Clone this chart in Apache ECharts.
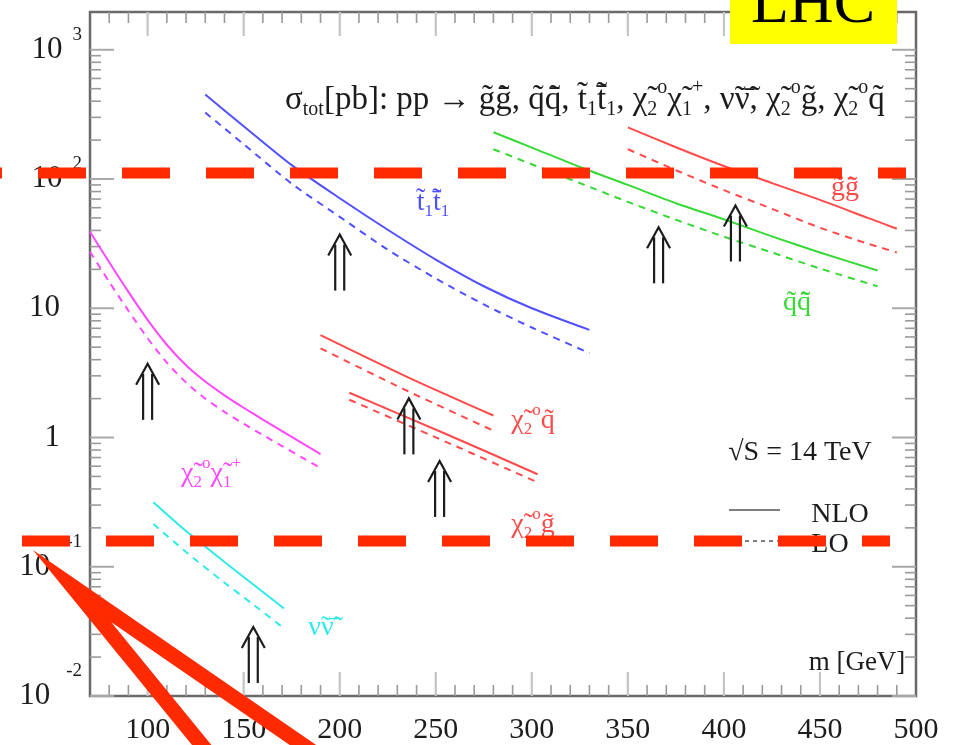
<!DOCTYPE html>
<html>
<head>
<meta charset="utf-8">
<script src="https://cdn.jsdelivr.net/npm/echarts@6/dist/echarts.min.js"></script>
<style>
  html, body { margin: 0; padding: 0; background: #ffffff; }
  #chart { width: 959px; height: 745px; }
</style>
</head>
<body>
<div id="chart"></div>
<script>
// Total cross sections sigma_tot [pb] versus mass m [GeV], pp at sqrt(S) = 14 TeV.

// gluino pair
const mGluino = [350, 375, 400, 425, 450, 475, 490];
const gluinoNLO = [251, 176, 126, 93, 69, 50, 41.2];
const gluinoLO = [170, 117, 82, 58.8, 42, 31.6, 27];

// squark-antisquark
const mSquark = [280, 300, 325, 350, 375, 400, 425, 450, 480];
const squarkNLO = [230, 175, 124, 90, 65, 48.8, 36, 27, 19.6];
const squarkLO = [170, 130, 93, 66.5, 48.4, 35.8, 27, 20.3, 14.8];

// stop pair
const mStop = [130, 150, 175, 200, 225, 250, 275, 300, 330];
const stopNLO = [450, 256, 128, 71, 40.5, 23.8, 14.8, 10.0, 6.8];
const stopLO = [327, 186, 92, 51, 28.4, 17, 10.7, 7.1, 4.5];

// neutralino-chargino
const mGaugino = [70, 80, 90, 100, 110, 120, 130, 140, 150, 160, 170, 180, 190];
const gauginoNLO = [39.1, 22.7, 13.4, 8.13, 5.22, 3.62, 2.71, 2.12, 1.70, 1.376, 1.12, 0.912, 0.743];
const gauginoLO = [27.4, 16.0, 9.57, 5.86, 3.80, 2.66, 2.00, 1.58, 1.277, 1.045, 0.859, 0.706, 0.580];

// sneutrino pair
const mSneutrino = [103, 120, 140, 155, 171];
const sneutrinoNLO = [0.316, 0.189, 0.109, 0.073, 0.0475];
const sneutrinoLO = [0.214, 0.130, 0.0753, 0.051, 0.0333];

// neutralino + squark
const mChiSquark = [190, 235, 280];
const chiSquarkNLO = [6.2, 2.95, 1.48];
const chiSquarkLO = [4.9, 2.3, 1.13];

// neutralino + gluino
const mChiGluino = [205, 255, 303];
const chiGluinoNLO = [2.22, 1.07, 0.52];
const chiGluinoLO = [1.96, 0.93, 0.45];

// threshold arrows: mass and the cross section at the arrow foot
const arrowMass = [100, 155, 200, 236, 252, 366, 406];
const arrowBase = [1.37, 0.0126, 13.7, 0.74, 0.243, 15.6, 23];

// axis ticks
const xTickLabels = [100, 150, 200, 250, 300, 350, 400, 450, 500];
const yTickLabels = [0.01, 0.1, 1, 10, 100, 1000];

const SERIF = '"Liberation Serif", "DejaVu Serif", serif';
const INK = '#1c1c1c';
const COL = {
  red: '#ff4a4a', green: '#36d936', blue: '#5050ff', magenta: '#ff48ff', cyan: '#30eaea'
};
const OVERLAY = '#ff2a00';

const xMin = 70, xMax = 500, yMin = 0.01, yMax = 1960;

// minor tick positions
const xMinor = [];
for (let v = 80; v < xMax; v += 10) if (v % 50 !== 0) xMinor.push(v);
const xMajor = xTickLabels.filter(v => v < xMax);
const yMinor = [];
yTickLabels.forEach(d => { for (let k = 2; k <= 9; k++) if (d * k < yMax) yMinor.push(d * k); });
const yMajor = yTickLabels.slice();

function zip(xs, ys) { return xs.map((x, i) => [x, ys[i]]); }

function curve(name, xs, ys, color, dashed) {
  return {
    name, type: 'line', data: zip(xs, ys), showSymbol: false, symbol: 'none',
    smooth: 0.25, silent: true, z: 3,
    lineStyle: { color, width: 2, type: dashed ? [7, 6] : 'solid' }
  };
}

function tickSeries(values, dir, len, color, width) {
  return {
    type: 'custom', silent: true, z: 2, clip: false,
    data: values.map(v => dir === 'x' ? [v, 1] : [100, v]),
    renderItem(params, api) {
      const cs = params.coordSys;
      const p = api.coord([api.value(0), api.value(1)]);
      const st = { stroke: color, lineWidth: width };
      if (dir === 'x') {
        const yb = cs.y + cs.height, yt = cs.y;
        return { type: 'group', children: [
          { type: 'line', shape: { x1: p[0], y1: yb, x2: p[0], y2: yb - len }, style: st },
          { type: 'line', shape: { x1: p[0], y1: yt, x2: p[0], y2: yt + len }, style: st }
        ] };
      }
      const xl = cs.x, xr = cs.x + cs.width;
      return { type: 'group', children: [
        { type: 'line', shape: { x1: xl, y1: p[1], x2: xl + len, y2: p[1] }, style: st },
        { type: 'line', shape: { x1: xr, y1: p[1], x2: xr - len, y2: p[1] }, style: st }
      ] };
    }
  };
}

const arrowSeries = {
  type: 'custom', silent: true, z: 4, clip: false,
  data: zip(arrowMass, arrowBase),
  renderItem(params, api) {
    const p = api.coord([api.value(0), api.value(1)]);
    const x = p[0], y = p[1];
    const st = { stroke: INK, lineWidth: 2.2, fill: null };
    return { type: 'group', children: [
      { type: 'line', shape: { x1: x - 4.5, y1: y, x2: x - 4.5, y2: y - 46 }, style: st },
      { type: 'line', shape: { x1: x + 4.5, y1: y, x2: x + 4.5, y2: y - 46 }, style: st },
      { type: 'polyline', shape: { points: [[x - 11.5, y - 35], [x, y - 56], [x + 11.5, y - 35]] }, style: st }
    ] };
  }
};

// rich text styles for particle names
function richSet(size, color) {
  const s = Math.round(size * 0.6);
  return {
    m: { fontFamily: SERIF, fontSize: size, color },
    sb: { fontFamily: SERIF, fontSize: s, color, padding: [Math.round(size * 0.6), 0, 0, 0] },
    sp: { fontFamily: SERIF, fontSize: s, color, padding: [0, 0, Math.round(size * 0.75), 0] }
  };
}
function label(text, x, y, color, size) {
  const fs = size || 28;
  return {
    type: 'text', x, y, z: 20, silent: true,
    style: { text, rich: richSet(fs, color), align: 'center', verticalAlign: 'middle',
             fontFamily: SERIF, fontSize: fs, fill: color }
  };
}
function plainText(text, x, y, size) {
  return {
    type: 'text', x, y, z: 20, silent: true,
    style: { text, fontFamily: SERIF, fontSize: size, fill: INK, align: 'center', verticalAlign: 'middle' }
  };
}

const T = '\u0303', B = '\u0303\u0304';
const titleText =
  '{m|σ}{sb|tot}{m|[pb]: pp → g' + T + 'g' + B + ', q' + T + 'q' + B + ', t' + T + '}{sb|1}{m|t' + B + '}{sb|1}' +
  '{m|, χ' + T + '}{sb|2}{sp|o}{m|χ' + T + '}{sb|1}{sp|+}{m|, ν' + T + 'ν' + B + ', χ' + T + '}{sb|2}{sp|o}' +
  '{m|g' + T + ', χ' + T + '}{sb|2}{sp|o}{m|q' + T + '}';

const chart = echarts.init(document.getElementById('chart'), null, { renderer: 'canvas' });

chart.setOption({
  animation: false,
  backgroundColor: '#ffffff',
  grid: { left: 90, right: 43, top: 12, bottom: 45, show: true, borderColor: '#6a6a6a', borderWidth: 2.5 },
  xAxis: {
    type: 'value', min: xMin, max: xMax, splitNumber: 9,
    axisLine: { show: false }, axisTick: { show: false }, splitLine: { show: false },
    axisLabel: {
      margin: 19, fontFamily: SERIF, fontSize: 30, color: INK,
      formatter: v => xTickLabels.indexOf(v) >= 0 ? String(v) : ''
    }
  },
  yAxis: {
    type: 'log', logBase: 10, min: yMin, max: yMax,
    axisLine: { show: false }, axisTick: { show: false }, splitLine: { show: false },
    axisLabel: {
      margin: 8, color: INK,
      formatter(v) {
        const l = Math.log10(v), e = Math.round(l);
        if (Math.abs(l - e) > 1e-6) return '';
        if (e === 0) return '{c|1}';
        if (e === 1) return '{c|10}';
        return '{b|10}{' + (e < 0 ? 'n' : 'p') + '|' + e + '}';
      },
      rich: {
        b: { fontFamily: SERIF, fontSize: 31, color: INK },
        c: { fontFamily: SERIF, fontSize: 31, color: INK, padding: [0, 22, 0, 0] },
        p: { fontFamily: SERIF, fontSize: 19, color: INK, padding: [0, 0, 30, 10] },
        n: { fontFamily: SERIF, fontSize: 19, color: INK, padding: [0, 0, 50, 16] }
      }
    }
  },
  series: [
    tickSeries(xMinor, 'x', 11, '#9a9a9a', 1.6),
    tickSeries(xMajor, 'x', 24, '#c4c4c4', 2.2),
    tickSeries(yMinor, 'y', 11, '#9a9a9a', 1.6),
    tickSeries(yMajor, 'y', 24, '#a8a8a8', 2),
    curve('gg NLO', mGluino, gluinoNLO, COL.red, false),
    curve('gg LO', mGluino, gluinoLO, COL.red, true),
    curve('qq NLO', mSquark, squarkNLO, COL.green, false),
    curve('qq LO', mSquark, squarkLO, COL.green, true),
    curve('t1t1 NLO', mStop, stopNLO, COL.blue, false),
    curve('t1t1 LO', mStop, stopLO, COL.blue, true),
    curve('chi2chi1 NLO', mGaugino, gauginoNLO, COL.magenta, false),
    curve('chi2chi1 LO', mGaugino, gauginoLO, COL.magenta, true),
    curve('nunu NLO', mSneutrino, sneutrinoNLO, COL.cyan, false),
    curve('nunu LO', mSneutrino, sneutrinoLO, COL.cyan, true),
    curve('chi2q NLO', mChiSquark, chiSquarkNLO, COL.red, false),
    curve('chi2q LO', mChiSquark, chiSquarkLO, COL.red, true),
    curve('chi2g NLO', mChiGluino, chiGluinoNLO, COL.red, false),
    curve('chi2g LO', mChiGluino, chiGluinoLO, COL.red, true),
    arrowSeries
  ],
  graphic: [
    // process list
    {
      type: 'text', x: 285, y: 100, z: 20, silent: true,
      style: { text: titleText, rich: richSet(33, INK), align: 'left', verticalAlign: 'middle',
               fontFamily: SERIF, fontSize: 33, fill: INK }
    },
    // curve names
    label('{m|t' + T + '}{sb|1}{m|t' + B + '}{sb|1}', 433, 203, COL.blue),
    label('{m|g' + T + 'g' + B + '}', 845, 188, COL.red),
    label('{m|q' + T + 'q' + B + '}', 797, 303, COL.green),
    label('{m|χ' + T + '}{sb|2}{sp|o}{m|χ' + T + '}{sb|1}{sp|+}', 211, 474, COL.magenta),
    label('{m|ν' + T + 'ν' + B + '}', 321, 628, COL.cyan),
    label('{m|χ' + T + '}{sb|2}{sp|o}{m|q' + T + '}', 533, 421, COL.red),
    label('{m|χ' + T + '}{sb|2}{sp|o}{m|g' + T + '}', 533, 525, COL.red),
    // energy and line-style key
    plainText('√S = 14 TeV', 800, 453, 28),
    plainText('NLO', 840, 515, 28),
    plainText('LO', 830, 545, 28),
    plainText('m [GeV]', 857, 663, 27),
    { type: 'line', z: 20, silent: true, shape: { x1: 729, y1: 510, x2: 780, y2: 510 },
      style: { stroke: '#555', lineWidth: 1.6 } },
    { type: 'line', z: 20, silent: true, shape: { x1: 729, y1: 541, x2: 780, y2: 541 },
      style: { stroke: '#555', lineWidth: 1.6, lineDash: [4, 4] } },
    // red highlight marks
    { type: 'line', z: 100, silent: true, shape: { x1: -46, y1: 173, x2: 906, y2: 173 },
      style: { stroke: OVERLAY, lineWidth: 11, lineDash: [48, 36] } },
    { type: 'line', z: 100, silent: true, shape: { x1: 22, y1: 541, x2: 890, y2: 541 },
      style: { stroke: OVERLAY, lineWidth: 11, lineDash: [48, 36] } },
    { type: 'polyline', z: 100, silent: true,
      shape: { points: [[227, 776], [72, 586], [348, 776]] },
      style: { stroke: OVERLAY, lineWidth: 15, lineJoin: 'miter', miterLimit: 10, fill: null } },
    // collider tag
    { type: 'rect', z: 110, silent: true, shape: { x: 730, y: 0, width: 167, height: 44 },
      style: { fill: '#ffff00' } },
    { type: 'text', z: 111, silent: true, x: 813, y: 37,
      style: { text: 'LHC', fontFamily: SERIF, fontSize: 62, fill: '#000', align: 'center', verticalAlign: 'bottom' } }
  ]
});
</script>
</body>
</html>
